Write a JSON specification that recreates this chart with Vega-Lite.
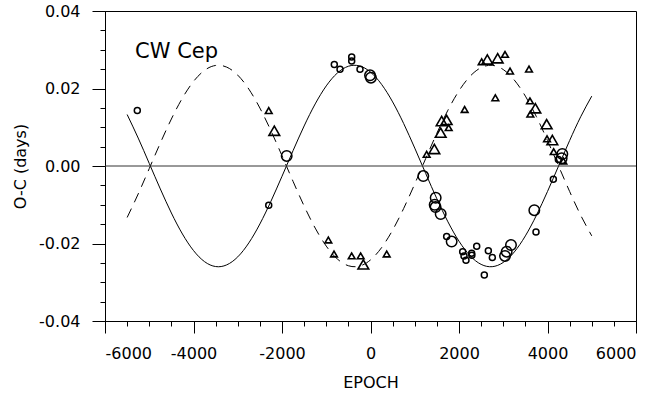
{
  "$schema": "https://vega.github.io/schema/vega-lite/v6.json",
  "width": 531,
  "height": 310,
  "autosize": "none",
  "padding": {"left": 105, "top": 11, "right": 21, "bottom": 78},
  "background": "white",
  "config": {
    "view": {"stroke": "black", "strokeWidth": 1},
    "axis": {
      "grid": false,
      "domainColor": "black",
      "tickColor": "black",
      "labelColor": "black",
      "titleColor": "black",
      "labelFont": "DejaVu Sans",
      "titleFont": "DejaVu Sans",
      "labelFontSize": 16,
      "titleFontSize": 16,
      "titleFontWeight": "normal"
    }
  },
  "datasets": {
    "curve": [
      {"epoch": -5500, "s": 0.01329, "d": -0.01329},
      {"epoch": -5250, "s": 0.00721, "d": -0.00721},
      {"epoch": -5000, "s": 0.00066, "d": -0.00066},
      {"epoch": -4750, "s": -0.00592, "d": 0.00592},
      {"epoch": -4500, "s": -0.01213, "d": 0.01213},
      {"epoch": -4250, "s": -0.01755, "d": 0.01755},
      {"epoch": -4000, "s": -0.02182, "d": 0.02182},
      {"epoch": -3750, "s": -0.02469, "d": 0.02469},
      {"epoch": -3500, "s": -0.02595, "d": 0.02595},
      {"epoch": -3250, "s": -0.02552, "d": 0.02552},
      {"epoch": -3000, "s": -0.02345, "d": 0.02345},
      {"epoch": -2750, "s": -0.01985, "d": 0.01985},
      {"epoch": -2500, "s": -0.01496, "d": 0.01496},
      {"epoch": -2250, "s": -0.0091, "d": 0.0091},
      {"epoch": -2000, "s": -0.00265, "d": 0.00265},
      {"epoch": -1750, "s": 0.00397, "d": -0.00397},
      {"epoch": -1500, "s": 0.01033, "d": -0.01033},
      {"epoch": -1250, "s": 0.01602, "d": -0.01602},
      {"epoch": -1000, "s": 0.02067, "d": -0.02067},
      {"epoch": -750, "s": 0.02399, "d": -0.02399},
      {"epoch": -500, "s": 0.02574, "d": -0.02574},
      {"epoch": -250, "s": 0.02583, "d": -0.02583},
      {"epoch": 0, "s": 0.02424, "d": -0.02424},
      {"epoch": 250, "s": 0.02107, "d": -0.02107},
      {"epoch": 500, "s": 0.01654, "d": -0.01654},
      {"epoch": 750, "s": 0.01094, "d": -0.01094},
      {"epoch": 1000, "s": 0.00462, "d": -0.00462},
      {"epoch": 1250, "s": -0.00199, "d": 0.00199},
      {"epoch": 1500, "s": -0.00847, "d": 0.00847},
      {"epoch": 1750, "s": -0.01441, "d": 0.01441},
      {"epoch": 2000, "s": -0.01941, "d": 0.01941},
      {"epoch": 2250, "s": -0.02315, "d": 0.02315},
      {"epoch": 2500, "s": -0.02539, "d": 0.02539},
      {"epoch": 2750, "s": -0.02598, "d": 0.02598},
      {"epoch": 3000, "s": -0.02489, "d": 0.02489},
      {"epoch": 3250, "s": -0.02218, "d": 0.02218},
      {"epoch": 3500, "s": -0.01803, "d": 0.01803},
      {"epoch": 3750, "s": -0.01271, "d": 0.01271},
      {"epoch": 4000, "s": -0.00657, "d": 0.00657},
      {"epoch": 4250, "s": 0.0, "d": 0.0},
      {"epoch": 4500, "s": 0.00657, "d": -0.00657},
      {"epoch": 4750, "s": 0.01271, "d": -0.01271},
      {"epoch": 5000, "s": 0.01803, "d": -0.01803}
    ],
    "obs": [
      {"epoch": -5270, "oc": 0.0143, "type": "circle", "w": "s"},
      {"epoch": -2300, "oc": -0.0101, "type": "circle", "w": "s"},
      {"epoch": -1894, "oc": 0.0026, "type": "circle", "w": "l"},
      {"epoch": -818, "oc": 0.0262, "type": "circle", "w": "s"},
      {"epoch": -689, "oc": 0.025, "type": "circle", "w": "s"},
      {"epoch": -425, "oc": 0.0281, "type": "circle", "w": "s"},
      {"epoch": -425, "oc": 0.0271, "type": "circle", "w": "s"},
      {"epoch": -237, "oc": 0.025, "type": "circle", "w": "s"},
      {"epoch": -11, "oc": 0.0234, "type": "circle", "w": "l"},
      {"epoch": 10, "oc": 0.0228, "type": "circle", "w": "l"},
      {"epoch": 1193, "oc": -0.0026, "type": "circle", "w": "l"},
      {"epoch": 1473, "oc": -0.0082, "type": "circle", "w": "l"},
      {"epoch": 1450, "oc": -0.01, "type": "circle", "w": "l"},
      {"epoch": 1470, "oc": -0.0106, "type": "circle", "w": "l"},
      {"epoch": 1586, "oc": -0.0124, "type": "circle", "w": "l"},
      {"epoch": 1721, "oc": -0.0182, "type": "circle", "w": "s"},
      {"epoch": 1834, "oc": -0.0195, "type": "circle", "w": "l"},
      {"epoch": 2083, "oc": -0.0221, "type": "circle", "w": "s"},
      {"epoch": 2113, "oc": -0.0232, "type": "circle", "w": "s"},
      {"epoch": 2158, "oc": -0.0243, "type": "circle", "w": "s"},
      {"epoch": 2286, "oc": -0.0225, "type": "circle", "w": "s"},
      {"epoch": 2290, "oc": -0.023, "type": "circle", "w": "s"},
      {"epoch": 2400, "oc": -0.0207, "type": "circle", "w": "s"},
      {"epoch": 2572, "oc": -0.0281, "type": "circle", "w": "s"},
      {"epoch": 2663, "oc": -0.0219, "type": "circle", "w": "s"},
      {"epoch": 2753, "oc": -0.0236, "type": "circle", "w": "s"},
      {"epoch": 3040, "oc": -0.0232, "type": "circle", "w": "l"},
      {"epoch": 3077, "oc": -0.0221, "type": "circle", "w": "l"},
      {"epoch": 3175, "oc": -0.0204, "type": "circle", "w": "l"},
      {"epoch": 3702, "oc": -0.0114, "type": "circle", "w": "l"},
      {"epoch": 3740, "oc": -0.017, "type": "circle", "w": "s"},
      {"epoch": 4132, "oc": -0.0034, "type": "circle", "w": "s"},
      {"epoch": 4245, "oc": 0.0017, "type": "circle", "w": "s"},
      {"epoch": 4335, "oc": 0.0031, "type": "circle", "w": "l"},
      {"epoch": 4320, "oc": 0.002, "type": "circle", "w": "l"},
      {"epoch": -2300, "oc": 0.0143, "type": "triangle", "w": "s"},
      {"epoch": -2174, "oc": 0.0091, "type": "triangle", "w": "l"},
      {"epoch": -953, "oc": -0.0191, "type": "triangle", "w": "s"},
      {"epoch": -825, "oc": -0.0227, "type": "triangle", "w": "s"},
      {"epoch": -425, "oc": -0.0232, "type": "triangle", "w": "s"},
      {"epoch": -222, "oc": -0.0232, "type": "triangle", "w": "s"},
      {"epoch": -162, "oc": -0.0254, "type": "triangle", "w": "l"},
      {"epoch": 366, "oc": -0.0227, "type": "triangle", "w": "s"},
      {"epoch": 1269, "oc": 0.003, "type": "triangle", "w": "s"},
      {"epoch": 1443, "oc": 0.0044, "type": "triangle", "w": "l"},
      {"epoch": 1586, "oc": 0.0086, "type": "triangle", "w": "l"},
      {"epoch": 1608, "oc": 0.0116, "type": "triangle", "w": "l"},
      {"epoch": 1721, "oc": 0.0119, "type": "triangle", "w": "l"},
      {"epoch": 1767, "oc": 0.0099, "type": "triangle", "w": "s"},
      {"epoch": 2128, "oc": 0.0146, "type": "triangle", "w": "s"},
      {"epoch": 2512, "oc": 0.0269, "type": "triangle", "w": "s"},
      {"epoch": 2640, "oc": 0.0275, "type": "triangle", "w": "l"},
      {"epoch": 2821, "oc": 0.0176, "type": "triangle", "w": "s"},
      {"epoch": 2874, "oc": 0.0278, "type": "triangle", "w": "l"},
      {"epoch": 3040, "oc": 0.0288, "type": "triangle", "w": "s"},
      {"epoch": 3153, "oc": 0.0245, "type": "triangle", "w": "s"},
      {"epoch": 3582, "oc": 0.025, "type": "triangle", "w": "s"},
      {"epoch": 3604, "oc": 0.0168, "type": "triangle", "w": "s"},
      {"epoch": 3725, "oc": 0.0149, "type": "triangle", "w": "l"},
      {"epoch": 3612, "oc": 0.0134, "type": "triangle", "w": "s"},
      {"epoch": 3981, "oc": 0.0108, "type": "triangle", "w": "l"},
      {"epoch": 3989, "oc": 0.007, "type": "triangle", "w": "s"},
      {"epoch": 4109, "oc": 0.0067, "type": "triangle", "w": "l"},
      {"epoch": 4140, "oc": 0.0037, "type": "triangle", "w": "s"},
      {"epoch": 4358, "oc": 0.0013, "type": "triangle", "w": "s"}
    ],
    "label": [{"name": "CW Cep", "epoch": -5320, "oc": 0.028, "zero": 0}]
  },
  "layer": [
    {
      "data": {"name": "curve"},
      "mark": {"type": "line", "color": "black", "strokeWidth": 1, "interpolate": "natural"},
      "encoding": {
        "x": {
          "field": "epoch", "type": "quantitative",
          "scale": {"domain": [-6000, 6000], "nice": false, "zero": false},
          "axis": {
            "values": [-6000, -4000, -2000, 0, 2000, 4000, 6000],
            "tickSize": 12, "tickWidth": 1, "domainWidth": 1,
            "labelPadding": 12, "title": "EPOCH", "titlePadding": 13,
            "labelExpr": "datum.value < 0 ? '-' + format(-datum.value, 'd') : format(datum.value, 'd')",
            "orient": "bottom"
          }
        },
        "y": {
          "field": "s", "type": "quantitative",
          "scale": {"domain": [-0.04, 0.04], "nice": false, "zero": false},
          "axis": {
            "values": [-0.04, -0.02, 0, 0.02, 0.04],
            "tickSize": 13, "tickWidth": 1, "domainWidth": 1,
            "labelPadding": 12, "title": "O-C (days)", "titlePadding": 10,
            "labelExpr": "datum.value < 0 ? '-' + format(-datum.value, '.2f') : format(datum.value, '.2f')",
            "orient": "left"
          }
        }
      }
    },
    {
      "data": {"name": "curve"},
      "mark": {"type": "line", "color": "black", "strokeWidth": 1, "strokeDash": [10, 7], "interpolate": "natural"},
      "encoding": {
        "x": {
          "field": "epoch", "type": "quantitative",
          "axis": {
            "values": [-6000, -5500, -5000, -4500, -4000, -3500, -3000, -2500, -2000, -1500, -1000, -500, 0, 500, 1000, 1500, 2000, 2500, 3000, 3500, 4000, 4500, 5000, 5500, 6000],
            "tickSize": 5, "labels": false, "domain": false, "title": null, "orient": "bottom"
          }
        },
        "y": {
          "field": "d", "type": "quantitative",
          "axis": {
            "values": [-0.04, -0.035, -0.03, -0.025, -0.02, -0.015, -0.01, -0.005, 0, 0.005, 0.01, 0.015, 0.02, 0.025, 0.03, 0.035, 0.04],
            "tickSize": 5, "labels": false, "domain": false, "title": null, "orient": "left"
          }
        }
      }
    },
    {
      "data": {"name": "label"},
      "mark": {"type": "rule", "color": "#333333", "strokeWidth": 1},
      "encoding": {"y": {"field": "zero", "type": "quantitative", "axis": null}}
    },
    {
      "data": {"name": "obs"},
      "transform": [{"filter": "datum.type === 'circle'"}],
      "mark": {"type": "point", "shape": "circle", "filled": false, "stroke": "black", "strokeWidth": 1.5, "opacity": 1},
      "encoding": {
        "x": {"field": "epoch", "type": "quantitative", "axis": null},
        "y": {"field": "oc", "type": "quantitative", "axis": null},
        "size": {"field": "w", "type": "nominal", "scale": {"domain": ["s", "l"], "range": [36, 110]}, "legend": null}
      }
    },
    {
      "data": {"name": "obs"},
      "transform": [{"filter": "datum.type === 'triangle'"}],
      "mark": {"type": "point", "shape": "triangle-up", "filled": false, "stroke": "black", "strokeWidth": 1.6, "opacity": 1},
      "encoding": {
        "x": {"field": "epoch", "type": "quantitative", "axis": null},
        "y": {"field": "oc", "type": "quantitative", "axis": null},
        "size": {"field": "w", "type": "nominal", "scale": {"domain": ["s", "l"], "range": [45, 115]}, "legend": null}
      }
    },
    {
      "data": {"name": "label"},
      "mark": {"type": "text", "font": "DejaVu Sans", "fontSize": 21, "align": "left", "baseline": "alphabetic", "color": "black"},
      "encoding": {
        "text": {"field": "name"},
        "x": {"field": "epoch", "type": "quantitative", "axis": null},
        "y": {"field": "oc", "type": "quantitative", "axis": null}
      }
    }
  ],
  "resolve": {"axis": {"x": "independent", "y": "independent"}, "scale": {"size": "independent"}}
}
